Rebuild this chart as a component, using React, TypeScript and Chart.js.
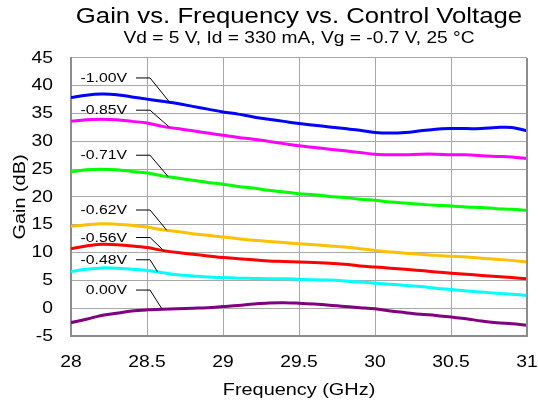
import React, { useEffect, useRef } from "react";
import { Chart, registerables } from "chart.js";

Chart.register(...registerables);

// ---------- data ----------
const frequencies = [
  28.0, 28.1, 28.2, 28.3, 28.4, 28.5, 28.6, 28.7, 28.8, 28.9, 29.0, 29.1, 29.2, 29.3, 29.4, 29.5,
  29.6, 29.7, 29.8, 29.9, 30.0, 30.1, 30.2, 30.3, 30.4, 30.5, 30.6, 30.7, 30.8, 30.9, 31.0,
];

const gainM100 = [
  37.9, 38.3, 38.5, 38.4, 38.0, 37.6, 37.2, 36.8, 36.3, 35.8, 35.3, 34.9, 34.4, 34.0, 33.6, 33.2,
  32.9, 32.6, 32.3, 32.0, 31.6, 31.5, 31.6, 31.9, 32.2, 32.3, 32.3, 32.3, 32.5, 32.5, 31.9,
];
const gainM085 = [
  33.6, 33.9, 34.0, 33.9, 33.6, 33.3, 32.7, 32.3, 31.9, 31.5, 31.1, 30.7, 30.4, 30.0, 29.6, 29.2,
  28.9, 28.6, 28.3, 28.0, 27.7, 27.6, 27.6, 27.7, 27.7, 27.6, 27.6, 27.4, 27.3, 27.2, 26.9,
];
const gainM071 = [
  24.5, 24.9, 25.0, 24.9, 24.6, 24.3, 23.8, 23.4, 23.0, 22.6, 22.3, 21.9, 21.6, 21.2, 20.9, 20.6,
  20.4, 20.1, 19.9, 19.6, 19.4, 19.1, 18.9, 18.7, 18.5, 18.4, 18.2, 18.1, 17.9, 17.8, 17.6,
];
const gainM062 = [
  14.7, 15.0, 15.2, 15.1, 14.9, 14.6, 14.1, 13.8, 13.4, 13.1, 12.8, 12.5, 12.2, 12.0, 11.8, 11.6,
  11.4, 11.2, 11.0, 10.7, 10.4, 10.1, 9.9, 9.7, 9.5, 9.35, 9.2, 9.0, 8.8, 8.6, 8.3,
];
const gainM056 = [
  10.7, 11.2, 11.5, 11.4, 11.2, 10.9, 10.4, 10.0, 9.7, 9.4, 9.1, 8.9, 8.7, 8.5, 8.4, 8.3,
  8.2, 8.1, 7.9, 7.6, 7.4, 7.2, 7.0, 6.8, 6.5, 6.3, 6.1, 5.9, 5.7, 5.5, 5.3,
];
const gainM048 = [
  6.6, 7.0, 7.25, 7.2, 7.0, 6.8, 6.4, 6.0, 5.8, 5.6, 5.5, 5.4, 5.35, 5.3, 5.3, 5.2,
  5.1, 5.05, 4.9, 4.7, 4.5, 4.3, 4.1, 3.9, 3.6, 3.35, 3.1, 2.9, 2.7, 2.5, 2.3,
];
const gainZero = [
  -2.6, -2.0, -1.3, -0.9, -0.5, -0.3, -0.2, -0.1, 0.0, 0.1, 0.3, 0.5, 0.75, 0.95, 1.0, 0.9,
  0.75, 0.55, 0.3, 0.1, -0.1, -0.5, -0.8, -1.1, -1.3, -1.6, -1.9, -2.3, -2.6, -2.8, -3.05,
];

const seriesLabels = ["-1.00V", "-0.85V", "-0.71V", "-0.62V", "-0.56V", "-0.48V", "0.00V"];
const seriesValues = [gainM100, gainM085, gainM071, gainM062, gainM056, gainM048, gainZero];
const seriesColors = ["#0000ff", "#ff00ff", "#00ff00", "#ffc000", "#ff0000", "#00ffff", "#800080"];

const xTickValues = [28, 28.5, 29, 29.5, 30, 30.5, 31];
const yTickValues = [-5, 0, 5, 10, 15, 20, 25, 30, 35, 40, 45];

// label callouts: elbow point (data units) and frequency where the leader meets the curve
const calloutElbowFreq = 28.52;
const calloutElbowGain = [41.5, 35.7, 27.6, 17.75, 12.8, 8.8, 3.35];
const calloutTargetFreq = [28.65, 28.65, 28.64, 28.63, 28.61, 28.57, 28.6];

const titleText = "Gain vs. Frequency vs. Control Voltage";
const subtitleText = "Vd = 5 V, Id = 330 mA, Vg = -0.7 V, 25 \u00B0C";
const xTitle = "Frequency (GHz)";
const yTitle = "Gain (dB)";

const FONT = "'Liberation Sans', Arial, Helvetica, sans-serif";
const TEXT_STRETCH = 1.17;

function valueAt(values: number[], f: number): number {
  for (let i = 0; i < frequencies.length - 1; i++) {
    const a = frequencies[i];
    const b = frequencies[i + 1];
    if (f >= a && f <= b) {
      const t = (f - a) / (b - a);
      return values[i] + (values[i + 1] - values[i]) * t;
    }
  }
  return values[values.length - 1];
}

// widen all text horizontally (the reference uses a wide Helvetica rendering)
function stretchText(ctx: any, s: number) {
  const origFill = ctx.fillText;
  const origMeasure = ctx.measureText;
  ctx.fillText = function (text: string, x: number, y: number, maxWidth?: number) {
    this.save();
    this.translate(x, y);
    this.scale(s, 1);
    if (maxWidth !== undefined && maxWidth !== null) origFill.call(this, text, 0, 0, maxWidth / s);
    else origFill.call(this, text, 0, 0);
    this.restore();
  };
  ctx.measureText = function (text: string) {
    const m = origMeasure.call(this, text);
    return {
      width: m.width * s,
      actualBoundingBoxAscent: m.actualBoundingBoxAscent,
      actualBoundingBoxDescent: m.actualBoundingBoxDescent,
      actualBoundingBoxLeft: m.actualBoundingBoxLeft * s,
      actualBoundingBoxRight: m.actualBoundingBoxRight * s,
      fontBoundingBoxAscent: m.fontBoundingBoxAscent,
      fontBoundingBoxDescent: m.fontBoundingBoxDescent,
    };
  };
}

const calloutPlugin = {
  id: "callouts",
  afterDatasetsDraw(chart: any) {
    const { ctx, scales } = chart;
    const xs = scales.x;
    const ys = scales.y;
    ctx.save();
    ctx.font = `13.5px ${FONT}`;
    ctx.fillStyle = "#000";
    ctx.strokeStyle = "#000";
    ctx.lineWidth = 1;
    ctx.textAlign = "right";
    ctx.textBaseline = "middle";
    seriesLabels.forEach((label, i) => {
      const ex = xs.getPixelForValue(calloutElbowFreq);
      const ey = ys.getPixelForValue(calloutElbowGain[i]);
      const tx = xs.getPixelForValue(calloutTargetFreq[i]);
      const ty = ys.getPixelForValue(valueAt(seriesValues[i], calloutTargetFreq[i]));
      ctx.beginPath();
      ctx.moveTo(ex - 14, ey + 0.5);
      ctx.lineTo(ex, ey + 0.5);
      ctx.lineTo(tx, ty);
      ctx.stroke();
      ctx.fillText(label, ex - 23, ey + 1);
    });
    ctx.restore();
  },
};

const framePlugin = {
  id: "frame",
  afterDatasetsDraw(chart: any) {
    const { ctx, chartArea } = chart;
    ctx.save();
    ctx.strokeStyle = "#8c8c8c";
    ctx.lineWidth = 2;
    ctx.beginPath();
    ctx.moveTo(chartArea.right, chartArea.top);
    ctx.lineTo(chartArea.right, chartArea.bottom);
    ctx.stroke();
    ctx.restore();
  },
};

export default function App() {
  const canvasRef = useRef<HTMLCanvasElement | null>(null);

  useEffect(() => {
    const canvas = canvasRef.current;
    if (!canvas) return;
    const ctx2d = canvas.getContext("2d");
    if (ctx2d) stretchText(ctx2d, TEXT_STRETCH);
    const chart = new Chart(canvas, {
      type: "line",
      data: {
        datasets: seriesLabels.map((label, i) => ({
          label,
          data: frequencies.map((f, k) => ({ x: f, y: seriesValues[i][k] })),
          borderColor: seriesColors[i],
          backgroundColor: seriesColors[i],
          borderWidth: 3,
          pointRadius: 0,
          tension: 0.35,
          fill: false,
        })),
      },
      plugins: [calloutPlugin, framePlugin],
      options: {
        responsive: false,
        animation: false,
        layout: { padding: { left: 0, right: 0, top: 0, bottom: 0 } },
        plugins: {
          legend: { display: false },
          tooltip: { enabled: false },
          title: {
            display: true,
            fullSize: false,
            text: titleText,
            color: "#000",
            font: { family: FONT, size: 22, weight: "normal" },
            padding: { top: 3.5, bottom: -1.4 },
          },
          subtitle: {
            display: true,
            fullSize: false,
            text: subtitleText,
            color: "#000",
            font: { family: FONT, size: 16.4, weight: "normal" },
            padding: { top: 0, bottom: 9.8 },
          },
        },
        scales: {
          x: {
            type: "linear",
            min: 28,
            max: 31,
            afterBuildTicks: (scale: any) => {
              scale.ticks = xTickValues.map((v) => ({ value: v }));
            },
            afterFit: (scale: any) => {
              scale.height = 68;
              scale.paddingRight = 11;
            },
            ticks: {
              color: "#000",
              font: { family: FONT, size: 16.5 },
              padding: 17,
              maxRotation: 0,
              autoSkip: false,
              callback: (v: any) => String(v),
            },
            grid: { color: "#a8a8a8", lineWidth: 1, drawTicks: false },
            border: { color: "#8c8c8c", width: 2 },
            title: {
              display: true,
              text: xTitle,
              color: "#000",
              font: { family: FONT, size: 17 },
              padding: { top: 0, bottom: 3 },
            },
          },
          y: {
            type: "linear",
            min: -5,
            max: 45,
            afterBuildTicks: (scale: any) => {
              scale.ticks = yTickValues.map((v) => ({ value: v }));
            },
            afterFit: (scale: any) => {
              scale.width = 71;
            },
            ticks: {
              color: "#000",
              font: { family: FONT, size: 16.5 },
              padding: 18,
              autoSkip: false,
              callback: (v: any) => String(v),
            },
            grid: { color: "#a8a8a8", lineWidth: 1, drawTicks: false },
            border: { color: "#8c8c8c", width: 2 },
            title: {
              display: true,
              text: yTitle,
              color: "#000",
              font: { family: FONT, size: 17 },
              padding: { top: 10, bottom: 0 },
            },
          },
        },
      } as any,
    });
    return () => chart.destroy();
  }, []);

  return (
    <div style={{ position: "absolute", left: 0, top: 0, width: 538, height: 404, background: "#fff" }}>
      <canvas ref={canvasRef} width={538} height={404} />
    </div>
  );
}
